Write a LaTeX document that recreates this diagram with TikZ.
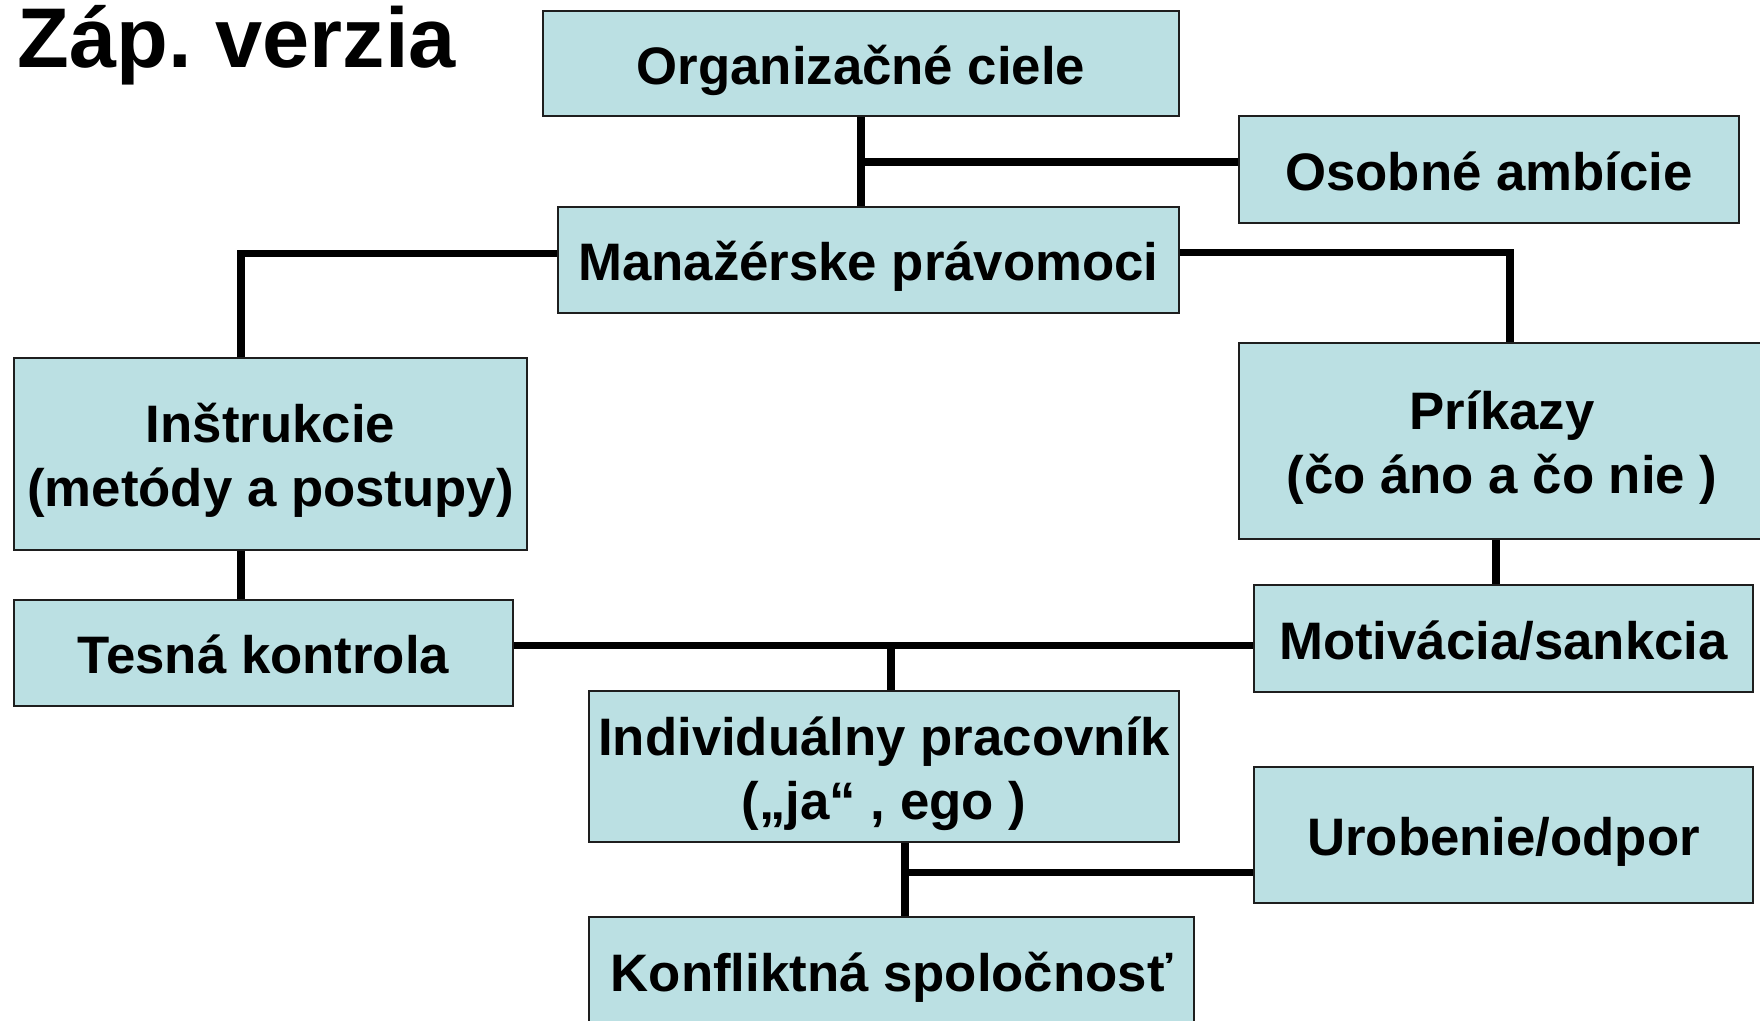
\documentclass[tikz,border=0pt]{standalone}
\usepackage{fontspec}
\setmainfont{Liberation Sans}
\definecolor{boxfill}{RGB}{187,224,227}
\definecolor{boxline}{RGB}{30,30,30}
\newcommand\firststrut{\rule{0pt}{0.99em}}
\tikzset{
box/.style={draw=boxline, line width=0.6pt, fill=boxfill, inner sep=0pt,
  align=center, font=\fontsize{15}{18.2}\selectfont\bfseries,
  execute at begin node={\rule{0pt}{1.0em}},
  execute at end node={\rule[-0.212em]{0pt}{0pt}}},
link/.style={line width=2pt, black}
}

\begin{document}
\begin{tikzpicture}[x=0.01cm, y=-0.01cm]
  \useasboundingbox (0,0) rectangle (1760,1020);
  \node[anchor=base west, inner sep=0pt, font=\fontsize{24.1}{28}\selectfont\bfseries] (title) at (17,67) {Záp.\ verzia};

  \node[box, minimum width=6.36cm, minimum height=1.05cm] (org) at (861,63.5) {Organizačné ciele};
  \node[box, minimum width=5.00cm, minimum height=1.07cm] (osob) at (1489,169.5) {Osobné ambície};
  \node[box, minimum width=6.21cm, minimum height=1.06cm] (man) at (868.5,260) {Manažérske právomoci};
  \node[box, minimum width=5.13cm, minimum height=1.92cm] (instr) at (270.5,454) {\firststrut Inštrukcie\\(metódy a postupy)};
  \node[box, minimum width=5.26cm, minimum height=1.96cm] (prik) at (1502,441) {\firststrut Príkazy\\(čo áno a čo nie )};
  \node[box, minimum width=4.99cm, minimum height=1.06cm] (tesna) at (263.5,653) {Tesná kontrola};
  \node[box, minimum width=4.99cm, minimum height=1.07cm] (motiv) at (1503.5,638.5) {Motivácia/sankcia};
  \node[box, minimum width=5.90cm, minimum height=1.51cm] (indiv) at (884,766.5) {\firststrut Individuálny pracovník\\(„ja“ , ego )};
  \node[box, minimum width=4.99cm, minimum height=1.36cm] (urob) at (1503.5,835) {Urobenie/odpor};
  \node[box, minimum width=6.05cm, minimum height=1.07cm] (konf) at (891.5,970.5) {Konfliktná spoločnosť};

  % junctions
  \coordinate (jA) at (861,162);
  \coordinate (jL) at (241,253);
  \coordinate (jR) at (1510,252);
  \coordinate (jP) at (1496,560);
  \coordinate (jM) at (891,645);
  \coordinate (jU) at (905,872);

  \draw[link] (org.south) -- (org.south |- man.north);
  \draw[link] (jA) -- (jA -| osob.west);
  \draw[link] (jL -| man.west) -- (jL) -- (jL |- instr.north);
  \draw[link] (jR -| man.east) -- (jR) -- (jR |- prik.north);
  \draw[link] (jL |- instr.south) -- (jL |- tesna.north);
  \draw[link] (jP |- prik.south) -- (jP |- motiv.north);
  \draw[link] (jM -| tesna.east) -- (jM -| motiv.west);
  \draw[link] (jM) -- (jM |- indiv.north);
  \draw[link] (jU |- indiv.south) -- (jU |- konf.north);
  \draw[link] (jU) -- (jU -| urob.west);
\end{tikzpicture}
\end{document}
